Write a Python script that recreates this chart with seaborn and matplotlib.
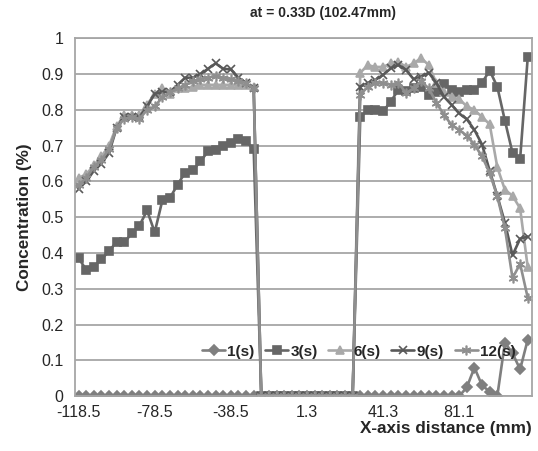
import matplotlib
matplotlib.use("Agg")
import matplotlib.pyplot as plt
import seaborn as sns
import numpy as np
import pandas as pd

# tick labels on the category axis (one label every 10 categories)
tick_labels = ["-118.5", "-78.5", "-38.5", "1.3", "41.3", "81.1"]
n_points = 60

s1 = [0.0, 0.0, 0.0, 0.0, 0.0, 0.0, 0.0, 0.0, 0.0, 0.0,
      0.0, 0.0, 0.0, 0.0, 0.0, 0.0, 0.0, 0.0, 0.0, 0.0,
      0.0, 0.0, 0.0, 0.0, 0.0, 0.0, 0.0, 0.0, 0.0, 0.0,
      0.0, 0.0, 0.0, 0.0, 0.0, 0.0, 0.0, 0.0, 0.0, 0.0,
      0.0, 0.0, 0.0, 0.0, 0.0, 0.0, 0.0, 0.0, 0.0, 0.0,
      0.0, 0.025, 0.08, 0.03, 0.013, 0.0, 0.15, 0.12, 0.075, 0.158]

zeros_mid = [0.0, 0.0, 0.0, 0.0, 0.0, 0.0, 0.0, 0.0, 0.0, 0.0, 0.0, 0.0, 0.0]

s3 = ([0.386, 0.353, 0.362, 0.383, 0.405, 0.432, 0.43, 0.455, 0.477, 0.519,
       0.458, 0.547, 0.554, 0.591, 0.625, 0.631, 0.656, 0.684, 0.687, 0.698,
       0.707, 0.718, 0.712, 0.691]
      + zeros_mid
      + [0.78, 0.80, 0.80, 0.796, 0.823, 0.856, 0.854, 0.861, 0.865, 0.842,
         0.849, 0.873, 0.856, 0.849, 0.856, 0.856, 0.876, 0.91, 0.865, 0.77,
         0.68, 0.663, 0.947])

s6 = ([0.61, 0.62, 0.645, 0.67, 0.70, 0.755, 0.785, 0.785, 0.785, 0.815,
       0.845, 0.86, 0.845, 0.86, 0.86, 0.865, 0.87, 0.87, 0.87, 0.87,
       0.87, 0.87, 0.87, 0.865]
      + zeros_mid
      + [0.904, 0.925, 0.92, 0.92, 0.93, 0.935, 0.92, 0.93, 0.945, 0.925,
         0.875, 0.85, 0.835, 0.83, 0.81, 0.80, 0.78, 0.76, 0.64, 0.577,
         0.56, 0.525, 0.36])

s9 = ([0.58, 0.60, 0.63, 0.65, 0.68, 0.75, 0.78, 0.78, 0.78, 0.81,
       0.845, 0.85, 0.85, 0.87, 0.89, 0.89, 0.90, 0.915, 0.93, 0.915,
       0.913, 0.89, 0.875, 0.86]
      + zeros_mid
      + [0.865, 0.875, 0.884, 0.898, 0.916, 0.926, 0.912, 0.886, 0.893, 0.904,
         0.875, 0.837, 0.814, 0.79, 0.774, 0.744, 0.703, 0.63, 0.56, 0.485,
         0.394, 0.44, 0.446])

s12 = ([0.59, 0.61, 0.64, 0.66, 0.69, 0.75, 0.775, 0.78, 0.775, 0.80,
        0.81, 0.835, 0.85, 0.86, 0.87, 0.88, 0.885, 0.89, 0.895, 0.89,
        0.885, 0.88, 0.875, 0.86]
       + zeros_mid
       + [0.842, 0.865, 0.875, 0.875, 0.87, 0.876, 0.847, 0.86, 0.88, 0.86,
          0.82, 0.786, 0.758, 0.744, 0.728, 0.703, 0.67, 0.624, 0.559, 0.47,
          0.33, 0.37, 0.275])

series = {"1(s)": s1, "3(s)": s3, "6(s)": s6, "9(s)": s9, "12(s)": s12}
styles = {
    "1(s)": dict(color="#7f7f7f", marker="D", markersize=5),
    "3(s)": dict(color="#666666", marker="s", markersize=6),
    "6(s)": dict(color="#a9a9a9", marker="^", markersize=6),
    "9(s)": dict(color="#595959", marker="x", markersize=6),
    "12(s)": dict(color="#8f8f8f", marker=(6, 2, 0), markersize=7),
}

sns.set_style("white")
plt.rcParams["font.family"] = ["Liberation Sans", "DejaVu Sans"]

fig = plt.figure(figsize=(5.38, 4.51), dpi=100)
ax = fig.add_axes([0.139, 0.1215, 0.849, 0.7935])

x = np.arange(n_points)
for name, vals in series.items():
    st = styles[name]
    sns.lineplot(x=x, y=vals, ax=ax, label=name, color=st["color"],
                 marker=st["marker"], markersize=st["markersize"],
                 markeredgecolor=st["color"], markerfacecolor=st["color"],
                 markeredgewidth=1.2, linewidth=1.9)

ax.set_xlim(-0.5, n_points - 0.5)
ax.set_ylim(0, 1)
ax.set_yticks(np.arange(0, 1.01, 0.1))
ax.set_yticklabels(["0", "0.1", "0.2", "0.3", "0.4", "0.5", "0.6", "0.7", "0.8", "0.9", "1"])
ax.yaxis.grid(True, color="#a6a6a6", linewidth=1.3)
ax.set_axisbelow(True)

# category boundary ticks + labels every 10 categories
ax.set_xticks(np.arange(-0.5, n_points, 1))
ax.set_xticklabels([])
ax.set_xticks(np.arange(0, 60, 10), minor=True)
ax.set_xticklabels(tick_labels, minor=True)
ax.tick_params(axis="x", which="major", direction="out", length=4, color="#a6a6a6", width=1)
ax.tick_params(axis="x", which="minor", length=0, labelsize=11.5, pad=6)
ax.tick_params(axis="y", direction="out", length=4, color="#a6a6a6", labelsize=11.5, pad=4)

for sp in ["left", "bottom", "right", "top"]:
    ax.spines[sp].set_color("#a6a6a6")
    ax.spines[sp].set_linewidth(1.3)

ax.set_xlabel("X-axis distance (mm)", fontsize=12.3, fontweight="bold", loc="right", labelpad=1)
ax.set_ylabel("Concentration (%)", fontsize=12.3, fontweight="bold", labelpad=7)
fig.text(0.6, 0.972, "at = 0.33D (102.47mm)", fontsize=10, fontweight="bold", ha="center", va="center")

leg = ax.legend(loc="center", bbox_to_anchor=(0.622, 0.124), ncol=5, frameon=False,
                handlelength=1.5, columnspacing=0.7, handletextpad=0.15,
                prop={"weight": "bold", "size": 11})

fig.savefig("out.png", dpi=100)
